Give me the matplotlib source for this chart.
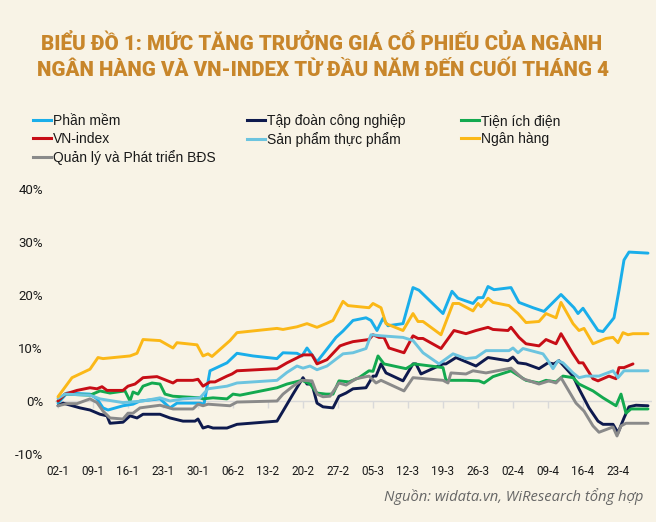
import matplotlib
matplotlib.use("Agg")
import matplotlib.pyplot as plt
from matplotlib.lines import Line2D

# ---------------- data (day offset from 02-1, % change) ----------------
tick_days = [0, 7, 14, 21, 28, 35, 42, 49, 56, 63, 70, 77, 84, 91, 98, 105, 112]
tick_labels = ["02-1", "09-1", "16-1", "23-1", "30-1", "06-2", "13-2", "20-2", "27-2",
               "05-3", "12-3", "19-3", "26-3", "02-4", "09-4", "16-4", "23-4"]
y_ticks = [-10, 0, 10, 20, 30, 40]

phan_mem_x = [0.0, 1.8, 6.4, 7.8, 9.0, 10.0, 13.0, 15.0, 16.4, 20.4, 22.4, 23.8, 28.4, 29.2, 30.4,
              33.8, 35.8, 39.0, 43.8, 45.0, 47.8, 48.8, 49.8, 51.8, 53.8, 55.6, 57.0, 59.0, 61.6,
              62.6, 63.8, 65.0, 66.0, 69.0, 71.0, 72.2, 77.0, 78.8, 80.0, 83.0, 84.0, 85.0, 86.0,
              87.2, 90.6, 92.2, 95.0, 97.2, 100.6, 103.2, 104.0, 105.0, 108.0, 109.0, 111.2,
              112.2, 113.2, 114.2, 118.0]
phan_mem_y = [-0.4, 1.5, 1.3, 0.4, -1.3, -1.7, -0.9, -0.6, 0.0, 0.4, -1.3, -0.4, -0.4, -0.6, 5.7,
              7.2, 9.0, 8.5, 8.0, 9.1, 9.0, 8.5, 10.0, 7.4, 9.8, 12.0, 13.2, 15.2, 15.7,
              15.2, 13.3, 15.6, 14.2, 14.6, 21.4, 20.9, 16.5, 20.7, 19.4, 18.4, 19.5, 19.5, 21.6,
              21.0, 21.4, 18.6, 17.6, 16.9, 20.1, 17.6, 16.5, 17.5, 13.3, 13.1, 15.7,
              20.9, 26.6, 28.1, 27.9]

tap_doan_x = [0.0, 1.0, 4.4, 6.4, 8.4, 9.8, 10.4, 13.0, 14.4, 15.8, 17.0, 20.4, 22.4, 25.0, 27.4,
              28.0, 29.0, 30.0, 31.0, 33.8, 35.8, 43.8, 45.0, 47.0, 49.0, 49.8, 50.8, 51.8, 53.0,
              55.0, 56.2, 57.6, 59.0, 61.6, 63.0, 63.6, 64.6, 65.6, 69.0, 71.0, 71.6, 72.6, 77.0,
              77.6, 79.6, 83.6, 86.0, 90.0, 91.0, 92.0, 93.6, 96.2, 98.0, 99.2, 100.2, 103.0,
              104.2, 106.2, 108.0, 109.0, 111.0, 112.0, 113.2, 114.2, 115.6, 118.0]
tap_doan_y = [-0.9, -0.4, -1.3, -1.7, -2.5, -2.8, -4.2, -4.0, -2.8, -3.2, -2.5, -2.5, -3.2, -3.8, -3.8,
              -3.4, -5.1, -4.8, -5.1, -5.1, -4.4, -3.8, -1.9, 1.3, 4.4, 3.2, 3.2, -0.4, -1.1,
              -1.3, 0.9, 1.5, 2.3, 2.5, 4.7, 4.7, 7.0, 5.3, 3.8, 7.0, 7.0, 5.1, 7.0,
              7.0, 8.2, 6.6, 8.2, 7.6, 8.3, 7.2, 7.0, 6.1, 7.2, 7.0, 7.6, 4.7,
              2.3, -1.3, -3.8, -4.4, -4.4, -6.0, -3.2, -1.1, -0.8, -0.9]

tien_ich_x = [0.0, 1.4, 6.4, 8.4, 10.4, 13.4, 14.4, 15.0, 16.0, 17.0, 18.8, 20.4, 21.4, 23.0, 28.4,
              29.0, 31.0, 33.8, 35.0, 36.4, 43.8, 45.8, 48.8, 50.4, 51.8, 53.6, 55.0, 56.2, 58.2,
              60.2, 62.2, 63.0, 64.0, 65.2, 69.6, 71.2, 77.0, 77.6, 81.6, 84.2, 85.2, 87.0, 90.6,
              93.6, 96.2, 97.6, 99.6, 101.0, 103.0, 104.2, 107.0, 109.0, 111.6, 112.6, 113.6,
              114.6, 118.0]
tien_ich_y = [0.0, 1.3, 1.1, 1.9, 1.5, 1.9, 0.0, 1.7, 1.3, 2.8, 3.4, 3.2, 1.3, 0.9, 0.6,
              0.4, 0.6, 0.4, 1.3, 1.1, 2.5, 3.2, 3.9, 3.2, 1.5, 1.3, 1.3, 3.8, 3.6,
              4.4, 5.7, 5.6, 8.5, 7.0, 6.1, 7.0, 6.3, 3.9, 3.9, 3.8, 3.4, 4.6, 5.7,
              3.9, 3.4, 3.9, 3.6, 4.7, 4.4, 3.2, 1.9, 0.6, -0.9, 1.3, -2.3,
              -1.5, -1.5]

vn_index_x = [0.0, 1.4, 3.8, 6.4, 7.8, 8.8, 9.8, 13.0, 14.0, 15.4, 17.0, 19.8, 23.0, 23.8, 27.0,
              28.0, 29.0, 30.4, 31.4, 33.8, 34.8, 35.8, 43.8, 45.8, 49.0, 50.8, 51.8, 53.8, 56.4,
              57.6, 59.0, 62.2, 63.0, 64.2, 65.2, 66.2, 69.2, 71.0, 72.0, 73.0, 76.6, 79.2, 81.6,
              83.6, 86.0, 87.0, 90.0, 90.6, 92.2, 93.6, 96.2, 97.6, 99.6, 100.6, 103.0, 104.2,
              105.0, 107.0, 108.0, 110.2, 111.6, 112.2, 113.2, 115.0]
vn_index_y = [0.0, 1.3, 2.0, 2.5, 2.3, 2.7, 2.0, 2.0, 2.8, 3.2, 4.4, 4.6, 3.4, 3.9, 3.9,
              4.1, 2.8, 3.6, 3.6, 4.7, 5.1, 5.7, 6.1, 7.2, 8.7, 8.7, 7.0, 7.8, 10.4,
              10.8, 11.2, 11.6, 12.5, 12.0, 12.0, 10.0, 9.1, 12.3, 11.8, 11.8, 9.9, 13.3, 12.7,
              13.3, 13.9, 13.5, 13.3, 13.9, 12.0, 10.8, 10.4, 11.6, 10.8, 12.7, 8.9, 7.2,
              7.2, 4.2, 3.8, 4.7, 4.2, 6.3, 6.3, 7.0]

thuc_pham_x = [0.0, 1.4, 6.4, 8.4, 11.0, 13.0, 17.0, 20.4, 22.4, 25.0, 28.4, 30.0, 33.8, 35.8, 43.8,
               45.8, 47.8, 49.0, 50.4, 51.8, 53.8, 57.0, 59.0, 61.6, 62.6, 64.6, 69.0, 71.0, 73.0,
               76.2, 79.0, 81.6, 83.6, 85.6, 90.2, 91.0, 92.0, 93.0, 97.0, 98.0, 99.0, 100.0,
               101.0, 103.0, 104.2, 105.6, 108.2, 111.0, 112.0, 113.2, 118.0]
thuc_pham_y = [0.5, 1.3, 1.1, 0.4, 0.0, -0.3, 0.0, 0.6, 0.0, 0.4, 0.6, 2.3, 2.8, 3.4, 3.9,
               5.4, 6.6, 6.2, 6.6, 5.9, 6.6, 8.9, 9.1, 9.9, 12.5, 12.3, 12.0, 11.4, 9.1,
               7.0, 8.9, 8.0, 8.2, 9.5, 9.5, 10.0, 9.1, 9.9, 8.9, 7.6, 6.1, 7.6,
               7.2, 5.3, 4.4, 4.7, 4.7, 5.7, 4.4, 5.7, 5.7]

ngan_hang_x = [0.0, 2.8, 6.4, 8.0, 9.0, 14.4, 15.8, 17.0, 20.4, 23.0, 23.8, 27.8, 29.0, 30.0, 30.8,
               34.4, 35.8, 43.8, 45.0, 47.8, 49.8, 51.8, 53.6, 55.0, 57.0, 58.0, 62.2, 63.0, 64.6,
               65.6, 69.0, 71.0, 72.0, 73.0, 76.6, 79.0, 80.2, 83.0, 84.0, 84.6, 86.0, 87.0, 90.2,
               92.0, 93.6, 96.2, 97.6, 99.6, 100.6, 103.0, 104.2, 105.2, 107.0, 109.6, 111.0,
               112.0, 113.0, 114.0, 115.0, 118.0]
ngan_hang_y = [0.8, 4.4, 6.0, 8.2, 8.0, 8.5, 9.0, 11.6, 11.4, 10.0, 11.0, 10.6, 8.5, 8.9, 8.4,
               11.4, 12.9, 13.7, 13.5, 14.0, 14.6, 13.9, 14.6, 15.2, 18.8, 18.0, 17.6, 18.4, 17.6,
               14.6, 13.3, 16.5, 15.0, 15.0, 12.5, 18.4, 18.4, 17.0, 18.4, 17.8, 19.4, 18.6, 18.0,
               16.5, 14.8, 15.0, 16.5, 15.7, 18.6, 14.6, 13.3, 13.7, 10.8, 11.8, 12.0,
               11.0, 12.9, 12.5, 12.7, 12.7]

bds_x = [0.0, 1.8, 3.8, 6.4, 7.8, 9.0, 10.4, 13.0, 14.0, 15.0, 16.4, 20.4, 23.0, 27.0, 28.0,
         29.0, 30.0, 34.4, 35.8, 43.8, 45.0, 47.0, 48.8, 50.8, 51.8, 53.0, 54.4, 56.2, 57.6,
         59.6, 62.2, 63.6, 64.6, 69.2, 71.0, 77.0, 78.0, 78.6, 81.6, 83.0, 85.6, 90.6, 93.0,
         96.2, 98.2, 99.6, 100.6, 103.6, 105.2, 107.0, 108.2, 111.0, 111.8, 112.6, 113.6, 118.0]
bds_y = [-0.9, -0.5, -0.5, 0.4, -0.3, -1.9, -3.2, -3.4, -2.3, -2.3, -1.3, -0.8, -1.5, -1.5, -0.6,
         -0.9, -0.6, -0.9, -0.2, 0.0, 1.3, 2.8, 3.9, 3.8, 1.3, 0.8, 0.9, 3.4, 3.0,
         4.2, 4.7, 3.4, 3.9, 1.9, 4.4, 3.9, 3.4, 5.3, 5.1, 5.7, 5.3, 6.2, 4.2,
         3.2, 3.8, 3.4, 4.4, -0.4, -1.9, -4.7, -5.9, -4.9, -6.6, -4.7, -4.2, -4.2]

series = [
    ("Phần mềm", phan_mem_x, phan_mem_y, "#1aaeea"),
    ("Tập đoàn công nghiệp", tap_doan_x, tap_doan_y, "#0e1a4e"),
    ("Tiện ích điện", tien_ich_x, tien_ich_y, "#13a94f"),
    ("VN-index", vn_index_x, vn_index_y, "#c70d16"),
    ("Sản phẩm thực phẩm", thuc_pham_x, thuc_pham_y, "#6cc4df"),
    ("Ngân hàng", ngan_hang_x, ngan_hang_y, "#fbb817"),
    ("Quản lý và Phát triển BĐS", bds_x, bds_y, "#8a8a8a"),
]

# ---------------- styling ----------------
BG = "#f8f3e6"
W, H = 656, 522
plt.rcParams["font.family"] = ["Liberation Sans", "DejaVu Sans"]

fig = plt.figure(figsize=(W / 100, H / 100), dpi=100, facecolor=BG)

def px(x, y):
    return x / W, 1 - y / H

ax_left, ax_right, ax_top, ax_bot = 55, 652, 189, 454
ax = fig.add_axes([ax_left / W, 1 - ax_bot / H, (ax_right - ax_left) / W, (ax_bot - ax_top) / H])
ax.set_facecolor(BG)
ax.set_xlim(-0.6, 118.8)
ax.set_ylim(-10, 40)

# zero line with small downward tick marks
ax.axhline(0, color="#d9d9d9", lw=1.0, zorder=1)
ax.plot(tick_days, [0] * len(tick_days), ls="none", marker=3, ms=5, mew=1.0,
        color="#d9d9d9", zorder=1, clip_on=False)

handles = {}
for name, xs, ys, col in series:
    (ln,) = ax.plot(xs, ys, color=col, lw=2.1, solid_joinstyle="round", solid_capstyle="round",
                    zorder=3)
    handles[name] = ln

for s in ax.spines.values():
    s.set_visible(False)
ax.set_xticks(tick_days)
ax.set_xticklabels(tick_labels, family=["Roboto", "DejaVu Sans"])
ax.tick_params(axis="x", length=0, pad=8, labelsize=8.5, labelcolor="#1a1a1a")
ax.set_yticks(y_ticks)
ax.set_yticklabels([f"{v}%" for v in y_ticks], family=["Roboto", "DejaVu Sans"])
ax.tick_params(axis="y", length=0, pad=8.6, labelsize=9.5, labelcolor="#1a1a1a")

# title (fit to the reference width)
title_kw = dict(ha="center", va="center", fontsize=13, fontweight="heavy", color="#c8862b",
                family=["Roboto", "Liberation Sans", "DejaVu Sans"])
t1 = fig.text(*px(322, 44), "BIỂU ĐỒ 1: MỨC TĂNG TRƯỞNG GIÁ CỔ PHIẾU CỦA NGÀNH", **title_kw)
t2 = fig.text(*px(323, 70), "NGÂN HÀNG VÀ VN-INDEX TỪ ĐẦU NĂM ĐẾN CUỐI THÁNG 4", **title_kw)
renderer = fig.canvas.get_renderer()
w1 = t1.get_window_extent(renderer).width
fs = 13 * 560.0 / w1
t1.set_fontsize(fs)
t2.set_fontsize(fs)

# legend (three columns)
cols = [
    (33, ["Phần mềm", "VN-index", "Quản lý và Phát triển BĐS"]),
    (247, ["Tập đoàn công nghiệp", "Sản phẩm thực phẩm"]),
    (461, ["Tiện ích điện", "Ngân hàng"]),
]
for xpos, names in cols:
    hs = [Line2D([], [], color=handles[n].get_color(), lw=2.2) for n in names]
    fig.legend(hs, names, loc="upper left", bbox_to_anchor=px(xpos, 114), frameon=False,
               fontsize=10, handlelength=1.3, handletextpad=0.15, labelspacing=0.3,
               borderpad=0, borderaxespad=0, labelcolor="#1a1a1a")

# source
fig.text(*px(643, 497), "Nguồn: widata.vn, WiResearch tổng hợp", ha="right", va="center",
         fontsize=10.6, style="italic", color="#666666", family=["Open Sans", "DejaVu Sans"])

fig.savefig("out.png", dpi=100, facecolor=BG)
